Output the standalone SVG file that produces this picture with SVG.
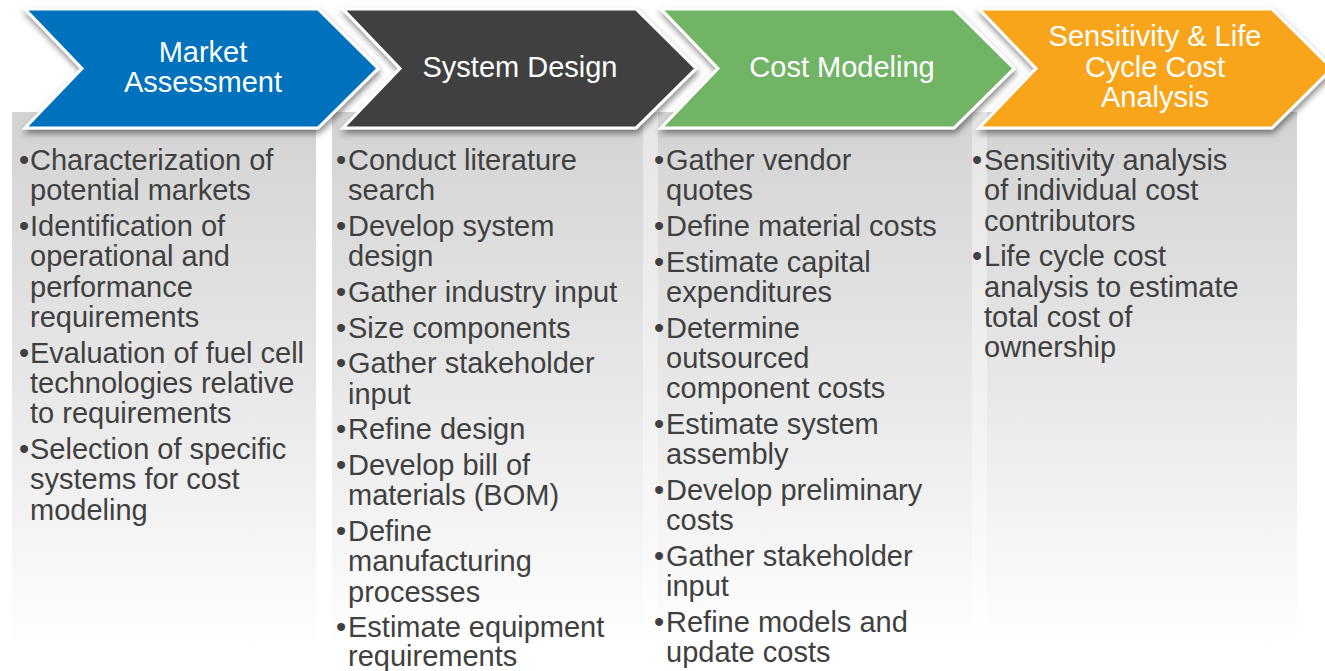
<svg xmlns="http://www.w3.org/2000/svg" width="1325" height="671" viewBox="0 0 1325 671">
<style>
.hd{font-family:"Liberation Sans",Arial,sans-serif;font-size:29px;font-weight:normal;fill:#ffffff;text-anchor:middle}
.bd{font-family:"Liberation Sans",Arial,sans-serif;font-size:29px;font-weight:normal;fill:#404040}
.chev{stroke:#ffffff;stroke-width:3;stroke-linejoin:miter;filter:url(#sh)}
.panel{fill:url(#pg)}
</style>
<defs>
<linearGradient id="pg" gradientUnits="userSpaceOnUse" x1="0" y1="112" x2="0" y2="650">
<stop offset="0" stop-color="#d3d3d3"/>
<stop offset="0.5" stop-color="#e7e7e7"/>
<stop offset="1" stop-color="#ffffff"/>
</linearGradient>
<linearGradient id="gg" gradientUnits="userSpaceOnUse" x1="0" y1="112" x2="0" y2="650">
<stop offset="0" stop-color="#e6e6e6"/>
<stop offset="0.5" stop-color="#f0f0f0"/>
<stop offset="1" stop-color="#ffffff"/>
</linearGradient>
<filter id="sh" x="-10%" y="-20%" width="120%" height="150%">
<feDropShadow dx="1" dy="4" stdDeviation="3" flood-color="#000000" flood-opacity="0.45"/>
</filter>
</defs>
<rect width="1325" height="671" fill="#ffffff"/>
<g id="panels">
<rect class="panel" x="12" y="112" width="304" height="540"/>
<rect class="panel" x="332" y="112" width="311" height="540"/>
<rect x="643" y="112" width="15" height="540" fill="url(#gg)"/>
<rect class="panel" x="658" y="112" width="314" height="540"/>
<rect x="972" y="112" width="15" height="540" fill="url(#gg)"/>
<rect class="panel" x="987" y="112" width="310" height="540"/>
</g>
<g id="market-assessment">
<polygon class="chev" fill="#0071bc" points="25,9 318,9 378,68.5 318,128 25,128 82,68.5"/>
<text class="hd"><tspan x="203" y="62">Market</tspan><tspan x="203" y="92">Assessment</tspan></text>
<text class="bd"><tspan x="19" y="170">•</tspan><tspan x="30" y="170">Characterization of</tspan><tspan x="30" y="200.3">potential markets</tspan><tspan x="19" y="236">•</tspan><tspan x="30" y="236">Identification of</tspan><tspan x="30" y="266.3">operational and</tspan><tspan x="30" y="296.6">performance</tspan><tspan x="30" y="326.9">requirements</tspan><tspan x="19" y="362.6">•</tspan><tspan x="30" y="362.6">Evaluation of fuel cell</tspan><tspan x="30" y="392.9">technologies relative</tspan><tspan x="30" y="423.2">to requirements</tspan><tspan x="19" y="458.9">•</tspan><tspan x="30" y="458.9">Selection of specific</tspan><tspan x="30" y="489.2">systems for cost</tspan><tspan x="30" y="519.5">modeling</tspan></text>
</g>
<g id="system-design">
<polygon class="chev" fill="#404040" points="343,9 636,9 696,68.5 636,128 343,128 400,68.5"/>
<text class="hd" x="520" y="77">System Design</text>
<text class="bd"><tspan x="336" y="170">•</tspan><tspan x="348" y="170">Conduct literature</tspan><tspan x="348" y="200.3">search</tspan><tspan x="336" y="236">•</tspan><tspan x="348" y="236">Develop system</tspan><tspan x="348" y="266.3">design</tspan><tspan x="336" y="302">•</tspan><tspan x="348" y="302">Gather industry input</tspan><tspan x="336" y="337.7">•</tspan><tspan x="348" y="337.7">Size components</tspan><tspan x="336" y="373.4">•</tspan><tspan x="348" y="373.4">Gather stakeholder</tspan><tspan x="348" y="403.7">input</tspan><tspan x="336" y="439.4">•</tspan><tspan x="348" y="439.4">Refine design</tspan><tspan x="336" y="475.1">•</tspan><tspan x="348" y="475.1">Develop bill of</tspan><tspan x="348" y="505.4">materials (BOM)</tspan><tspan x="336" y="541.1">•</tspan><tspan x="348" y="541.1">Define</tspan><tspan x="348" y="571.4">manufacturing</tspan><tspan x="348" y="601.7">processes</tspan><tspan x="336" y="636.5">•</tspan><tspan x="348" y="636.5">Estimate equipment</tspan><tspan x="348" y="665.5">requirements</tspan></text>
</g>
<g id="cost-modeling">
<polygon class="chev" fill="#72b466" points="661,9 954,9 1014,68.5 954,128 661,128 718,68.5"/>
<text class="hd" x="842" y="77">Cost Modeling</text>
<text class="bd"><tspan x="654" y="170">•</tspan><tspan x="666" y="170">Gather vendor</tspan><tspan x="666" y="200.3">quotes</tspan><tspan x="654" y="236">•</tspan><tspan x="666" y="236">Define material costs</tspan><tspan x="654" y="271.7">•</tspan><tspan x="666" y="271.7">Estimate capital</tspan><tspan x="666" y="302">expenditures</tspan><tspan x="654" y="337.7">•</tspan><tspan x="666" y="337.7">Determine</tspan><tspan x="666" y="368">outsourced</tspan><tspan x="666" y="398.3">component costs</tspan><tspan x="654" y="434">•</tspan><tspan x="666" y="434">Estimate system</tspan><tspan x="666" y="464.3">assembly</tspan><tspan x="654" y="500">•</tspan><tspan x="666" y="500">Develop preliminary</tspan><tspan x="666" y="530.3">costs</tspan><tspan x="654" y="566">•</tspan><tspan x="666" y="566">Gather stakeholder</tspan><tspan x="666" y="596.3">input</tspan><tspan x="654" y="632">•</tspan><tspan x="666" y="632">Refine models and</tspan><tspan x="666" y="662.3">update costs</tspan></text>
</g>
<g id="sensitivity-analysis">
<polygon class="chev" fill="#f8a51d" points="979,9 1272,9 1332,68.5 1272,128 979,128 1036,68.5"/>
<text class="hd"><tspan x="1155" y="46">Sensitivity &amp; Life</tspan><tspan x="1155" y="77">Cycle Cost</tspan><tspan x="1155" y="107">Analysis</tspan></text>
<text class="bd"><tspan x="972" y="170">•</tspan><tspan x="984" y="170">Sensitivity analysis</tspan><tspan x="984" y="200.3">of individual cost</tspan><tspan x="984" y="230.6">contributors</tspan><tspan x="972" y="266.3">•</tspan><tspan x="984" y="266.3">Life cycle cost</tspan><tspan x="984" y="296.6">analysis to estimate</tspan><tspan x="984" y="326.9">total cost of</tspan><tspan x="984" y="357.2">ownership</tspan></text>
</g>
</svg>
